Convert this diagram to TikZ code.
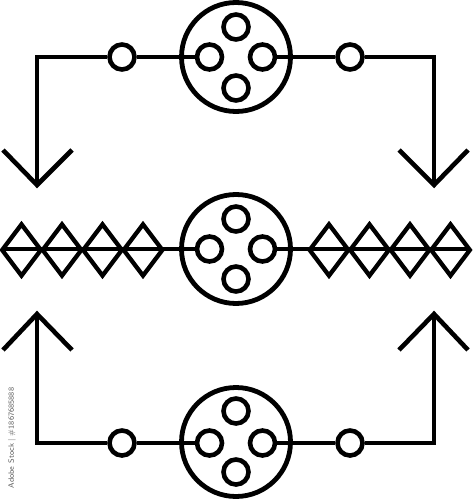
\documentclass[tikz,border=0pt]{standalone}
\usetikzlibrary{shapes.geometric}
\begin{document}
\begin{tikzpicture}[x=1pt,y=-1pt,line width=4.8pt,line join=miter,
  hole/.style={circle,draw,line width=4.6pt,minimum size=25pt,inner sep=0pt},
  bigc/.style={circle,draw,line width=4.8pt,minimum size=109pt,inner sep=0pt},
  gem/.style={diamond,draw,line width=4.3pt,minimum width=40.5pt,minimum height=53pt,inner sep=0pt},
  wire/.style={line width=4.6pt},
  wmtext/.style={text=black!65,font=\sffamily\fontsize{7.8}{8}\selectfont,rotate=90}]
\useasboundingbox (0,0) rectangle (472,500);
% ---------- top row ----------
\node[bigc] (tB) at (236,57) {};
\node[hole] (tN) at (236,27) {};
\node[hole] (tS) at (236,88) {};
\node[hole] (tW) at (209.5,57) {};
\node[hole] (tE) at (262.5,57) {};
\node[hole] (tl) at (122,57) {};
\node[hole] (tr) at (350,57) {};
\coordinate (tlc) at (37,57);
\coordinate (trc) at (434,57);
\coordinate (tlt) at (37,185);
\coordinate (trt) at (434,185);
\coordinate (tla) at (3,150);
\coordinate (tlb) at (72,150);
\coordinate (tra) at (399,150);
\coordinate (trb) at (468,150);
\draw[wire] (tlt) -- (tlc) -- (tl.west);
\draw[wire] (tl.east) -- (tW.west);
\draw[wire] (tE.east) -- (tr.west);
\draw[wire] (tr.east) -- (trc) -- (trt);
\draw[wire] (tla) -- (tlt) -- (tlb);
\draw[wire] (tra) -- (trt) -- (trb);
% ---------- middle row ----------
\node[bigc] (mB) at (236,249) {};
\node[hole] (mN) at (236,219) {};
\node[hole] (mS) at (236,279) {};
\node[hole] (mW) at (209.5,249) {};
\node[hole] (mE) at (262.5,249) {};
\coordinate (mL) at (2,249);
\coordinate (mR) at (470,249);
\draw[wire] (mL) -- (mW.west);
\draw[wire] (mE.east) -- (mR);
\node[gem] (d1) at (21.5,250) {};
\node[gem] (d2) at (62,250) {};
\node[gem] (d3) at (102.5,250) {};
\node[gem] (d4) at (143,250) {};
\node[gem] (d5) at (329,250) {};
\node[gem] (d6) at (369.5,250) {};
\node[gem] (d7) at (410,250) {};
\node[gem] (d8) at (450.5,250) {};
% ---------- bottom row ----------
\node[bigc] (bB) at (236,442) {};
\node[hole] (bN) at (236,411) {};
\node[hole] (bS) at (236,472) {};
\node[hole] (bW) at (209.5,443) {};
\node[hole] (bE) at (262.5,443) {};
\node[hole] (bl) at (122,443) {};
\node[hole] (br) at (350,443) {};
\coordinate (blc) at (37,443);
\coordinate (brc) at (434,443);
\coordinate (blt) at (37,314);
\coordinate (brt) at (434,314);
\coordinate (bla) at (3,350);
\coordinate (blb) at (72,350);
\coordinate (bra) at (399,350);
\coordinate (brb) at (468,350);
\draw[wire] (blt) -- (blc) -- (bl.west);
\draw[wire] (bl.east) -- (bW.west);
\draw[wire] (bE.east) -- (br.west);
\draw[wire] (br.east) -- (brc) -- (brt);
\draw[wire] (bla) -- (blt) -- (blb);
\draw[wire] (bra) -- (brt) -- (brb);
% ---------- watermark ----------
\node[wmtext] (wm) at (12,438) {Adobe Stock | \#1867685888};
\end{tikzpicture}
\end{document}
